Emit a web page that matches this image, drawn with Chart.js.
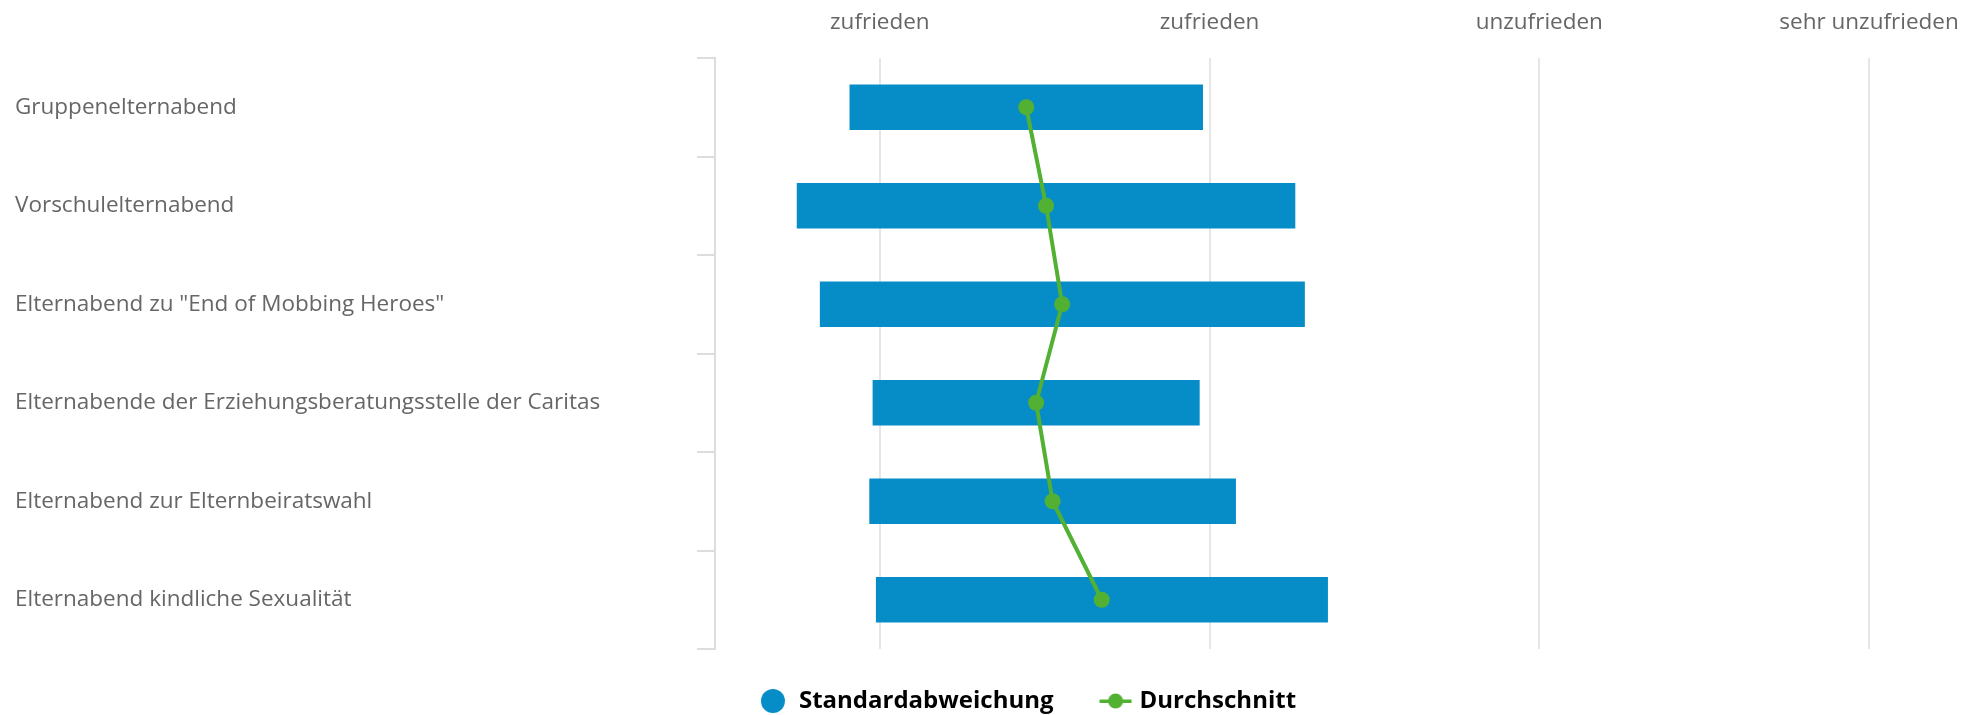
<!DOCTYPE html>
<html lang="de">
<head>
<meta charset="utf-8">
<title>Elternabende – Zufriedenheit</title>
<script src="https://cdn.jsdelivr.net/npm/chart.js@4/dist/chart.umd.min.js"></script>
<style>
  html, body { margin: 0; padding: 0; background: #fff; }
  #wrap { width: 1964px; height: 715px; }
</style>
</head>
<body>
<div id="wrap"><canvas id="elternChart"></canvas></div>
<script>
// Kategorien (y-Achse)
const categories = [
    'Gruppenelternabend',
    'Vorschulelternabend',
    'Elternabend zu "End of Mobbing Heroes"',
    'Elternabende der Erziehungsberatungsstelle der Caritas',
    'Elternabend zur Elternbeiratswahl',
    'Elternabend kindliche Sexualität'
];
// Beschriftung der x-Achse (Werte 1 bis 4)
const scaleLabels = ['zufrieden', 'zufrieden', 'unzufrieden', 'sehr unzufrieden'];
const scaleValues = [1, 2, 3, 4];

// Standardabweichung: untere und obere Grenze
const sdLow = [0.908, 0.748, 0.818, 0.978, 0.968, 0.988];
const sdHigh = [1.980, 2.260, 2.289, 1.970, 2.080, 2.359];
// Durchschnitt
const means = [1.444, 1.504, 1.553, 1.474, 1.524, 1.673];

const blue = '#068dc7';
const green = '#52b133';

// Symbole für die Legende
function legendCircle() {
    const c = document.createElement('canvas');
    c.width = 34; c.height = 26;
    const g = c.getContext('2d');
    g.fillStyle = blue;
    g.beginPath();
    g.arc(20, 13, 12, 0, Math.PI * 2);
    g.fill();
    return c;
}
function legendLine() {
    const c = document.createElement('canvas');
    c.width = 44; c.height = 18;
    const g = c.getContext('2d');
    g.fillStyle = green;
    g.fillRect(11, 7.5, 32, 3.5);
    g.beginPath();
    g.arc(27, 9, 7.5, 0, Math.PI * 2);
    g.fill();
    return c;
}
const legendIcons = [legendCircle(), legendLine()];

// Legende etwas nach rechts schieben
const legendShift = {
    id: 'legendShift',
    afterLayout(chart) {
        const lg = chart.legend;
        lg.left += 35; lg.right += 35;
    }
};

const ctx = document.getElementById('elternChart').getContext('2d');
const elternChart = new Chart(ctx, {
    data: {
        labels: categories,
        datasets: [{
            type: 'bar',
            label: 'Standardabweichung',
            data: sdLow.map((v, i) => [v, sdHigh[i]]),
            backgroundColor: blue,
            borderWidth: 0,
            borderSkipped: false,
            categoryPercentage: 1,
            barPercentage: 0.46,
            order: 1
        }, {
            type: 'line',
            label: 'Durchschnitt',
            data: means,
            borderColor: green,
            backgroundColor: green,
            borderWidth: 4,
            pointRadius: 8,
            pointBorderWidth: 0,
            pointBackgroundColor: green,
            tension: 0,
            order: 0
        }]
    },
    options: {
        indexAxis: 'y',
        responsive: true,
        maintainAspectRatio: false,
        animation: false,
        layout: {
            padding: { left: 15, right: 0, top: 0, bottom: -8 }
        },
        plugins: {
            legend: {
                position: 'bottom',
                labels: {
                    usePointStyle: true,
                    pointStyleWidth: 34,
                    padding: 40,
                    color: '#333',
                    font: { family: '"Open Sans", sans-serif', size: 24, weight: 'bold' },
                    generateLabels: (chart) => chart.data.datasets.map((ds, i) => ({
                        text: ds.label,
                        fillStyle: i === 0 ? blue : green,
                        strokeStyle: 'transparent',
                        lineWidth: 0,
                        pointStyle: legendIcons[i],
                        datasetIndex: i,
                        hidden: false
                    }))
                }
            },
            tooltip: { enabled: false }
        },
        scales: {
            x: {
                type: 'linear',
                position: 'top',
                min: 0.5,
                max: 4,
                afterBuildTicks: (scale) => {
                    scale.ticks = scaleValues.map(v => ({ value: v }));
                },
                afterFit: (scale) => {
                    scale.height = 58;
                    scale.paddingLeft = 0;
                    scale.paddingRight = 95;
                },
                ticks: {
                    color: '#666',
                    padding: 22,
                    font: { family: '"Open Sans", sans-serif', size: 22.5 },
                    callback: (v) => scaleLabels[scaleValues.indexOf(v)]
                },
                grid: { color: '#e6e6e6', lineWidth: 2, drawTicks: false },
                border: { display: false }
            },
            y: {
                offset: true,
                afterFit: (scale) => { scale.width = 700; },
                ticks: {
                    crossAlign: 'far',
                    color: '#666',
                    font: { family: '"Open Sans", sans-serif', size: 22.5 }
                },
                grid: {
                    offset: true,
                    drawOnChartArea: false,
                    tickLength: 18,
                    color: '#dddddd',
                    lineWidth: 2
                },
                border: { display: true, color: '#dddddd', width: 2 }
            }
        }
    },
    plugins: [legendShift]
});
</script>
</body>
</html>
